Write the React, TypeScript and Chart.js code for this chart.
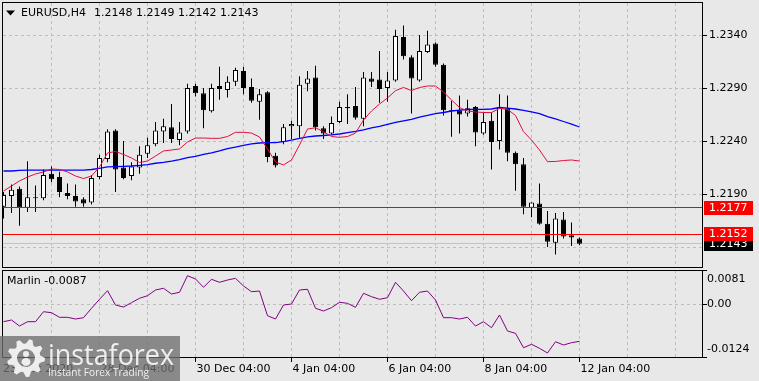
import React, { useEffect, useRef } from "react";
import { Chart, registerables } from "chart.js";
Chart.register(...registerables);

// ---------- DATA ----------
const symbolLabel = "EURUSD,H4";
const headerValues = ["1.2148", "1.2149", "1.2142", "1.2143"];

const opens = [1.2178,1.2188,1.2195,1.2177,1.2186,1.2186,1.2209,1.2206,1.2191,1.2188,1.2185,1.2182,1.2206,1.2223,1.2250,1.2215,1.2207,1.2215,1.2228,1.2237,1.2249,1.2253,1.2241,1.2249,1.2292,1.2285,1.2268,1.2292,1.2288,1.2296,1.2306,1.2291,1.2277,1.2286,1.2226,1.2239,1.2254,1.2254,1.2294,1.2300,1.2252,1.2247,1.2258,1.2272,1.2273,1.2261,1.2299,1.2298,1.2290,1.2297,1.2338,1.2319,1.2297,1.2324,1.2332,1.2312,1.2269,1.2269,1.2266,1.2272,1.2247,1.2259,1.2240,1.2271,1.2229,1.2218,1.2177,1.2181,1.2162,1.2144,1.2166,1.2151,1.2148];
const highs = [1.2192,1.2199,1.2197,1.2221,1.2198,1.2213,1.2216,1.2211,1.2200,1.2199,1.2187,1.2208,1.2227,1.2251,1.2251,1.2240,1.2220,1.2235,1.2243,1.2258,1.2261,1.2275,1.2258,1.2294,1.2294,1.2290,1.2294,1.2310,1.2301,1.2309,1.2310,1.2299,1.2289,1.2287,1.2229,1.2256,1.2259,1.2301,1.2306,1.2311,1.2254,1.2263,1.2277,1.2284,1.2291,1.2305,1.2305,1.2325,1.2305,1.2345,1.2349,1.2321,1.2340,1.2344,1.2333,1.2313,1.2278,1.2283,1.2279,1.2273,1.2267,1.2267,1.2284,1.2283,1.2230,1.2224,1.2182,1.2200,1.2174,1.2172,1.2173,1.2163,1.2149];
const lows = [1.2167,1.2172,1.2160,1.2173,1.2173,1.2184,1.2201,1.2187,1.2185,1.2178,1.2178,1.2180,1.2204,1.2220,1.2192,1.2204,1.2203,1.2209,1.2224,1.2235,1.2238,1.2238,1.2236,1.2247,1.2282,1.2252,1.2267,1.2279,1.2281,1.2292,1.2284,1.2276,1.2260,1.2220,1.2215,1.2237,1.2242,1.2243,1.2287,1.2250,1.2242,1.2246,1.2257,1.2256,1.2260,1.2254,1.2291,1.2276,1.2277,1.2296,1.2317,1.2266,1.2296,1.2323,1.2310,1.2264,1.2244,1.2247,1.2263,1.2235,1.2246,1.2213,1.2232,1.2221,1.2193,1.2171,1.2168,1.2161,1.2140,1.2133,1.2148,1.2141,1.2142];
const closes = [1.2189,1.2194,1.2177,1.2187,1.2187,1.2208,1.2204,1.2192,1.2188,1.2183,1.2181,1.2205,1.2224,1.2249,1.2213,1.2205,1.2216,1.2227,1.2236,1.2250,1.2254,1.2242,1.2248,1.2290,1.2285,1.2269,1.2290,1.2289,1.2296,1.2307,1.2290,1.2278,1.2284,1.2225,1.2217,1.2253,1.2256,1.2293,1.2299,1.2253,1.2247,1.2257,1.2272,1.2271,1.2262,1.2300,1.2296,1.2289,1.2297,1.2339,1.2320,1.2299,1.2325,1.2331,1.2312,1.2269,1.2268,1.2265,1.2271,1.2248,1.2258,1.2239,1.2272,1.2229,1.2218,1.2178,1.2182,1.2162,1.2145,1.2167,1.2150,1.2149,1.2143];

const fastMA = [1.21928,1.21975,1.22023,1.2206,1.22089,1.22108,1.22136,1.22131,1.22108,1.2207,1.22046,1.2207,1.22155,1.22287,1.22301,1.22273,1.2224,1.22197,1.22211,1.22258,1.22306,1.22315,1.22325,1.22391,1.22428,1.22428,1.22425,1.22425,1.22442,1.22482,1.22482,1.22475,1.22438,1.22325,1.22202,1.22174,1.22221,1.22362,1.22513,1.22525,1.22488,1.22442,1.22435,1.22442,1.22475,1.22598,1.22683,1.22749,1.22806,1.22875,1.22905,1.22876,1.22905,1.22919,1.22919,1.22862,1.22787,1.22716,1.22683,1.22674,1.22669,1.22669,1.22707,1.22699,1.22641,1.22488,1.22409,1.22315,1.22205,1.22207,1.22216,1.22221,1.22211];
const slowMA = [1.22117,1.22117,1.22122,1.22126,1.22126,1.22126,1.22126,1.22126,1.22126,1.22126,1.22126,1.22131,1.22142,1.22155,1.22159,1.22161,1.22164,1.22171,1.22178,1.2219,1.22199,1.22211,1.22225,1.22244,1.22254,1.22273,1.22287,1.22306,1.22329,1.22343,1.22358,1.22372,1.22381,1.22384,1.22384,1.22395,1.22409,1.22424,1.22438,1.22447,1.22452,1.22457,1.22466,1.22478,1.2249,1.22504,1.22523,1.22537,1.22556,1.22575,1.22589,1.22603,1.22626,1.22641,1.22659,1.22669,1.22683,1.22692,1.22697,1.22699,1.22699,1.22702,1.22716,1.22711,1.22702,1.22688,1.22674,1.22659,1.22631,1.22608,1.22584,1.2256,1.22532];

const marlin = [-0.00408,-0.00368,-0.0051,-0.00408,-0.00408,-0.00173,-0.00196,-0.00305,-0.00305,-0.00345,-0.00314,-0.00092,0.0012,0.00322,-0.00015,-0.00062,0.0004,0.00143,0.00204,0.00339,0.00379,0.00244,0.00285,0.00676,0.00598,0.00402,0.00591,0.0052,0.00574,0.00614,0.00433,0.00299,0.00315,-0.00267,-0.00345,-0.00015,0.00009,0.00339,0.00355,-0.00092,-0.00156,-0.00078,0.00049,0.00025,-0.00069,0.00261,0.00181,0.0012,0.00157,0.0052,0.00315,0.00087,0.00285,0.00315,0.00103,-0.00314,-0.00314,-0.00345,-0.00305,-0.0051,-0.00408,-0.0055,-0.0025,-0.00627,-0.00682,-0.01021,-0.00941,-0.01035,-0.01146,-0.0088,-0.00957,-0.00903,-0.0087];
const marlinLabel = "Marlin -0.0087";

const priceGrid = [1.234, 1.229, 1.224, 1.219, 1.214];
const priceTickValues = [1.234, 1.229, 1.224, 1.219];
const priceTickLabels = ["1.2340", "1.2290", "1.2240", "1.2190"];
const levelValues = [1.2177, 1.2152];
const levelLabels = ["1.2177", "1.2152"];
const lastPrice = 1.2143;
const lastPriceLabel = "1.2143";

const marlinTickValues = [0.0081, 0, -0.0124];
const marlinTickLabels = ["0.0081", "0.00", "-0.0124"];

const timeLabelIndex = [0, 12, 24, 36, 48, 60, 72];
const timeLabels = ["23 Dec 2020", "28 Dec 04:00", "30 Dec 04:00", "4 Jan 04:00", "6 Jan 04:00", "8 Jan 04:00", "12 Jan 04:00"];

// ---------- STYLE ----------
const W = 759, H = 381;
const BG = "#e8e8e8";
const GRID = "#bdbdbd";
const FONT = '11px "DejaVu Sans"';
const X_MIN = -0.0625, X_MAX = 87.4375;

function hline(ctx: CanvasRenderingContext2D, x1: number, x2: number, y: number) {
  ctx.beginPath(); ctx.moveTo(x1, y); ctx.lineTo(x2, y); ctx.stroke();
}
function vline(ctx: CanvasRenderingContext2D, x: number, y1: number, y2: number) {
  ctx.beginPath(); ctx.moveTo(x, y1); ctx.lineTo(x, y2); ctx.stroke();
}
function fitText(ctx: CanvasRenderingContext2D, text: string, x: number, y: number, width: number) {
  const m = ctx.measureText(text).width;
  ctx.save();
  ctx.translate(x, y);
  ctx.scale(width / m, 1);
  ctx.fillText(text, 0, 0);
  ctx.restore();
}

const pricePlugin = {
  id: "pricePanel",
  beforeDatasetsDraw(chart: any) {
    const { ctx, chartArea: a, scales } = chart;
    const x = scales.x, y = scales.y;
    ctx.save();
    ctx.lineWidth = 1;
    ctx.strokeStyle = GRID;
    ctx.setLineDash([3, 3]);
    for (const v of priceGrid) hline(ctx, a.left, a.right, Math.floor(y.getPixelForValue(v)) + 0.5);
    for (let i = 6; i <= 84; i += 6) vline(ctx, Math.floor(x.getPixelForValue(i)) + 0.5, a.top, a.bottom);
    ctx.setLineDash([]);
    ctx.strokeStyle = "#c4c4c4";
    hline(ctx, a.left, a.right, Math.floor(y.getPixelForValue(lastPrice)) + 0.5);
    ctx.restore();
  },
  afterDatasetsDraw(chart: any) {
    const { ctx, chartArea: a, scales } = chart;
    const y = scales.y;
    ctx.save();
    ctx.strokeStyle = "#ff0000";
    ctx.lineWidth = 1;
    for (const v of levelValues) hline(ctx, a.left, a.right, Math.floor(y.getPixelForValue(v)) + 0.5);
    ctx.restore();
  },
  afterDraw(chart: any) {
    const { ctx, chartArea: a, scales } = chart;
    const y = scales.y;
    ctx.save();
    ctx.strokeStyle = "#000";
    ctx.lineWidth = 1;
    ctx.strokeRect(2.5, 2.5, a.right - 3, a.bottom - 3);
    ctx.font = FONT;
    ctx.textBaseline = "middle";
    ctx.textAlign = "left";
    ctx.fillStyle = "#000";
    priceTickValues.forEach((v, k) => {
      const py = Math.floor(y.getPixelForValue(v)) + 0.5;
      hline(ctx, a.right, a.right + 4, py);
      ctx.fillText(priceTickLabels[k], 709, py);
    });
    // last price box
    const lp = y.getPixelForValue(lastPrice);
    ctx.fillStyle = "#000";
    ctx.fillRect(704, Math.round(lp) - 6, 49, 13);
    ctx.fillStyle = "#fff";
    ctx.fillText(lastPriceLabel, 709, Math.round(lp) + 0.5);
    // level boxes
    levelValues.forEach((v, k) => {
      const py = Math.round(y.getPixelForValue(v));
      ctx.fillStyle = "#ff0000";
      ctx.fillRect(704, py - 7, 49, 14);
      ctx.fillStyle = "#fff";
      ctx.fillText(levelLabels[k], 709, py);
    });
    // title
    ctx.fillStyle = "#000";
    ctx.beginPath();
    ctx.moveTo(6, 10.5); ctx.lineTo(15, 10.5); ctx.lineTo(10.5, 15.5); ctx.closePath(); ctx.fill();
    ctx.fillStyle = "#000";
    ctx.fillText(symbolLabel, 21, 13);
    ctx.fillText(headerValues.join(" "), 94, 13);
    ctx.restore();
  },
};

const indicatorPlugin = {
  id: "indicatorPanel",
  beforeDatasetsDraw(chart: any) {
    const { ctx, chartArea: a, scales } = chart;
    const x = scales.x, y = scales.y;
    ctx.save();
    ctx.lineWidth = 1;
    ctx.strokeStyle = GRID;
    ctx.setLineDash([3, 3]);
    hline(ctx, a.left, a.right, Math.floor(y.getPixelForValue(0)) + 0.5);
    for (let i = 6; i <= 84; i += 6) vline(ctx, Math.floor(x.getPixelForValue(i)) + 0.5, a.top, a.bottom);
    ctx.restore();
  },
  afterDraw(chart: any) {
    const { ctx, chartArea: a, scales } = chart;
    const x = scales.x, y = scales.y;
    ctx.save();
    ctx.strokeStyle = "#000";
    ctx.lineWidth = 1;
    ctx.strokeRect(2.5, a.top + 0.5, a.right - 3, a.bottom - a.top);
    ctx.font = FONT;
    ctx.textBaseline = "middle";
    ctx.fillStyle = "#000";
    marlinTickValues.forEach((v, k) => {
      const raw = y.getPixelForValue(v);
      const py = Math.min(Math.max(Math.floor(raw) + 0.5, a.top + 0.5), a.bottom + 0.5);
      hline(ctx, a.right, a.right + 4, py);
      let ty = py;
      if (k === 0) ty = py + 8.5;
      if (k === marlinTickValues.length - 1) ty = py - 8;
      ctx.fillText(marlinTickLabels[k], 707, ty);
    });
    ctx.fillText(marlinLabel, 7, a.top + 11);
    // time axis
    timeLabelIndex.forEach((idx, k) => {
      const px = Math.floor(x.getPixelForValue(idx)) + 0.5;
      if (idx > 0) vline(ctx, px, a.bottom, a.bottom + 5);
      ctx.fillText(timeLabels[k], idx === 0 ? 3 : px + 1, a.bottom + 12);
    });
    // watermark
    ctx.fillStyle = "rgba(110,110,110,0.78)";
    ctx.fillRect(0, 336, 180, 45);
    ctx.fillStyle = "rgba(250,250,250,0.9)";
    // gear
    const cx = 26, cy = 358, teeth = 9;
    ctx.beginPath();
    for (let k = 0; k < teeth * 4; k++) {
      const ang = (k / (teeth * 4)) * Math.PI * 2;
      const r = k % 4 < 2 ? 19 : 14.5;
      const px = cx + r * Math.cos(ang), py = cy + r * Math.sin(ang);
      if (k === 0) ctx.moveTo(px, py); else ctx.lineTo(px, py);
    }
    ctx.closePath();
    ctx.moveTo(cx + 9, cy);
    ctx.arc(cx, cy, 9, 0, Math.PI * 2, true);
    ctx.fill("evenodd");
    ctx.beginPath();
    ctx.arc(cx, cy - 4, 3, 0, Math.PI * 2);
    ctx.fill();
    ctx.beginPath();
    ctx.ellipse(cx, cy + 4, 4.5, 4, 0, 0, Math.PI * 2);
    ctx.fill();
    ctx.textBaseline = "alphabetic";
    ctx.font = '30px "Open Sans"';
    fitText(ctx, "instaforex", 48, 365, 126);
    ctx.font = '11px "Open Sans"';
    fitText(ctx, "Instant Forex Trading", 48, 376, 101);
    ctx.restore();
  },
};

export default function App() {
  const ref1 = useRef<HTMLCanvasElement | null>(null);
  const ref2 = useRef<HTMLCanvasElement | null>(null);

  useEffect(() => {
    const common: any = {
      responsive: false,
      animation: false,
      devicePixelRatio: 1,
      events: [],
      plugins: { legend: { display: false }, tooltip: { enabled: false } },
    };
    const idx = closes.map((_, i) => i);
    const c1 = new Chart(ref1.current as HTMLCanvasElement, {
      type: "bar",
      data: {
        datasets: [
          {
            type: "bar",
            data: idx.map((i) => ({ x: i, y: [lows[i], highs[i]] })),
            backgroundColor: "#000",
            borderWidth: 0,
            barThickness: 1,
            grouped: false,
            inflateAmount: 0,
            order: 3,
          } as any,
          {
            type: "bar",
            data: idx.map((i) => ({ x: i, y: [opens[i], closes[i]] })),
            backgroundColor: idx.map((i) => (closes[i] >= opens[i] ? "#ffffff" : "#000000")),
            borderColor: "#000",
            borderWidth: 1,
            borderSkipped: false,
            barThickness: 5,
            grouped: false,
            inflateAmount: 0,
            order: 2,
          } as any,
          {
            type: "line",
            data: idx.map((i) => ({ x: i, y: slowMA[i] })),
            borderColor: "#0000ff",
            borderWidth: 1.3,
            pointRadius: 0,
            tension: 0,
            order: 1,
          } as any,
          {
            type: "line",
            data: idx.map((i) => ({ x: i, y: fastMA[i] })),
            borderColor: "#e0103c",
            borderWidth: 1,
            pointRadius: 0,
            tension: 0,
            order: 0,
          } as any,
        ],
      },
      options: {
        ...common,
        layout: { padding: { left: 3, right: W - 703, top: 3, bottom: H - 268 } },
        scales: {
          x: { type: "linear", min: X_MIN, max: X_MAX, offset: false, display: false },
          y: { type: "linear", min: 1.2120189, max: 1.2370189, display: false },
        },
      },
      plugins: [pricePlugin],
    } as any);

    const c2 = new Chart(ref2.current as HTMLCanvasElement, {
      type: "line",
      data: {
        datasets: [
          {
            data: idx.map((i) => ({ x: i, y: marlin[i] })),
            borderColor: "#800080",
            borderWidth: 1,
            pointRadius: 0,
            tension: 0,
          },
        ],
      },
      options: {
        ...common,
        layout: { padding: { left: 3, right: W - 703, top: 270, bottom: H - 357 } },
        scales: {
          x: { type: "linear", min: X_MIN, max: X_MAX, offset: false, display: false },
          y: { type: "linear", min: -0.0124, max: 0.0081, display: false },
        },
      },
      plugins: [indicatorPlugin],
    } as any);

    return () => {
      c1.destroy();
      c2.destroy();
    };
  }, []);

  const cs: React.CSSProperties = { position: "absolute", left: 0, top: 0, width: W, height: H };
  return (
    <div style={{ position: "fixed", left: 0, top: 0, width: W, height: H, background: BG, overflow: "hidden" }}>
      <canvas ref={ref1} width={W} height={H} style={cs} />
      <canvas ref={ref2} width={W} height={H} style={cs} />
    </div>
  );
}
